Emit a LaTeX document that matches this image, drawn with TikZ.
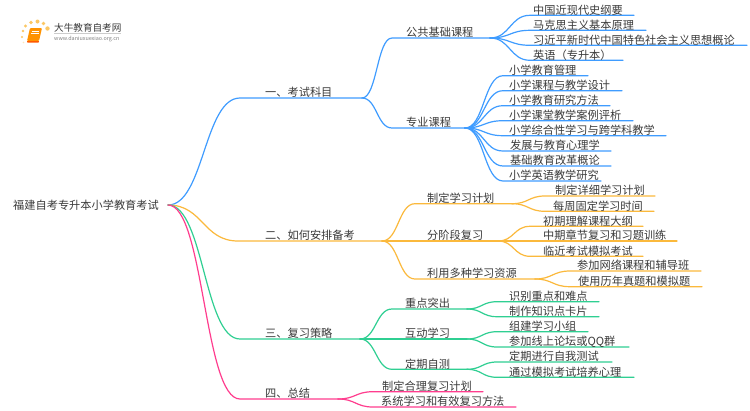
\documentclass[tikz,border=0pt]{standalone}
\usepackage{fontspec}
\usetikzlibrary{calc}
\setmainfont{Noto Sans CJK SC}
\definecolor{cblue}{HTML}{3F9CFF}
\definecolor{corange}{HTML}{FBB93C}
\definecolor{cgreen}{HTML}{2FCF92}
\definecolor{cpink}{HTML}{FF3D8E}
\definecolor{ctext}{HTML}{3A3A3A}
\tikzset{
  lbl/.style={anchor=west,inner sep=0pt,text=ctext,font=\fontsize{11.2}{12}\selectfont},
  wire/.style={line width=1.2pt,line cap=round}
}
% \twig{colour}{name}{parent}{curve end x}{y}{line end x}{text x}{text}
\newcommand{\twig}[8]{%
  \coordinate (#2-b) at (#4,#5);
  \coordinate (#2) at (#6,#5);
  \coordinate (#2-m) at ($(#3)!0.5!(#2-b)$);
  \draw[wire,#1] (#3) .. controls (#2-m |- #3) and (#2-m |- #2-b) .. (#2-b) -- (#2);
  \node[lbl] (#2-t) at (#7,#5-5.4) {#8};
}
\begin{document}
\begin{tikzpicture}[x=1pt,y=-1pt]
\useasboundingbox (0,0) rectangle (750,410);
\fill[white] (0,0) rectangle (750,410);
% logo
\foreach \i/\px/\py/\r in {a/23/31/1.3,b/22/37/1.1,c/25.5/26/1.6,d/31/22.5/1.9,e/37.5/21.5/2,f/43.5/23.5/1.8,g/47.5/28.5/2.2}{
  \fill[corange!80] (\px,\py) circle (\r);
}
\fill[corange!35] (23.5,42.5) circle (0.9);
\fill[orange!85!yellow,rounded corners=1pt] (30,28) -- (42,28) -- (39,41) -- (27,41) -- cycle;
\fill[orange!70!red] (27,41) -- (39,41) -- (38.5,42.5) -- (27.5,42.5) -- cycle;
\draw[white,line width=0.5pt] (31.5,31) -- (39,31) (31,33.5) -- (38.5,33.5);
\node[inner sep=0pt,anchor=west,text=ctext,font=\fontsize{9.6}{10}\selectfont] (logo) at (54,27.5) {大牛教育自考网};
\draw[gray!40,line width=0.4pt] (54,33) -- (121,33);
\node[inner sep=0pt,anchor=west,text=gray,font=\fontsize{5.4}{6}\selectfont] (url) at (54,38.7) {www.daniuxuexiao.org.cn};
% root
\node[lbl] (root-t) at (13,205.4) {福建自考专升本小学教育考试};
\coordinate (root) at (168,205);
% mains
\twig{cblue}{m1}{root}{240}{98}{362}{265}{一、考试科目}
\twig{corange}{m2}{root}{238}{241}{382}{265}{二、如何安排备考}
\twig{cgreen}{m3}{root}{240}{339}{360}{265}{三、复习策略}
\twig{cpink}{m4}{root}{240}{399}{338}{265}{四、总结}
% blue
\twig{cblue}{a1}{m1}{392}{38}{490}{406}{公共基础课程}
\twig{cblue}{a2}{m1}{392}{128}{465}{406}{专业课程}
\twig{cblue}{a11}{a1}{530}{15.3}{634}{533}{中国近现代史纲要}
\twig{cblue}{a12}{a1}{530}{30.3}{646}{533}{马克思主义基本原理}
\twig{cblue}{a13}{a1}{530}{45.3}{747}{533}{习近平新时代中国特色社会主义思想概论}
\twig{cblue}{a14}{a1}{530}{60.3}{623}{533}{英语（专升本）}
\twig{cblue}{a21}{a2}{503}{75.7}{588}{509}{小学教育管理}
\twig{cblue}{a22}{a2}{503}{90.7}{622}{509}{小学课程与教学设计}
\twig{cblue}{a23}{a2}{503}{105.7}{610}{509}{小学教育研究方法}
\twig{cblue}{a24}{a2}{503}{120.7}{633}{509}{小学课堂教学案例评析}
\twig{cblue}{a25}{a2}{503}{135.7}{666}{509}{小学综合性学习与跨学科教学}
\twig{cblue}{a26}{a2}{503}{151}{611}{510}{发展与教育心理学}
\twig{cblue}{a27}{a2}{503}{166}{611}{510}{基础教育改革概论}
\twig{cblue}{a28}{a2}{503}{181}{601}{509}{小学英语教学研究}
% orange
\twig{corange}{b1}{m2}{415}{203.7}{512}{427}{制定学习计划}
\twig{corange}{b2}{m2}{415}{241}{498}{427}{分阶段复习}
\twig{corange}{b3}{m2}{415}{279}{535}{427}{利用多种学习资源}
\twig{corange}{b11}{b1}{545}{196}{655}{555}{制定详细学习计划}
\twig{corange}{b12}{b1}{545}{211.3}{654}{553}{每周固定学习时间}
\twig{corange}{b21}{b2}{530}{226.3}{643}{543}{初期理解课程大纲}
\twig{corange}{b22}{b2}{530}{241}{677}{543}{中期章节复习和习题训练}
\twig{corange}{b23}{b2}{530}{256.3}{643}{543}{临近考试模拟考试}
\twig{corange}{b31}{b3}{570}{271}{701}{577}{参加网络课程和辅导班}
\twig{corange}{b32}{b3}{570}{286.7}{702}{578}{使用历年真题和模拟题}
% green
\twig{cgreen}{c1}{m3}{392}{309}{467}{405}{重点突出}
\twig{cgreen}{c2}{m3}{392}{339}{467}{405}{互动学习}
\twig{cgreen}{c3}{m3}{392}{369.3}{467}{405}{定期自测}
\twig{cgreen}{c11}{c1}{497}{301.7}{599}{509}{识别重点和难点}
\twig{cgreen}{c12}{c1}{497}{316.7}{599}{509}{制作知识点卡片}
\twig{cgreen}{c21}{c2}{497}{331.7}{588}{509}{组建学习小组}
\twig{cgreen}{c22}{c2}{497}{347}{629}{509}{参加线上论坛或QQ群}
\twig{cgreen}{c31}{c3}{497}{362}{612}{509}{定期进行自我测试}
\twig{cgreen}{c32}{c3}{497}{377.3}{634}{509}{通过模拟考试培养心理}
% pink
\twig{cpink}{d1}{m4}{373}{391.7}{483}{382}{制定合理复习计划}
\twig{cpink}{d2}{m4}{373}{407}{516}{381}{系统学习和有效复习方法}
\end{tikzpicture}
\end{document}
